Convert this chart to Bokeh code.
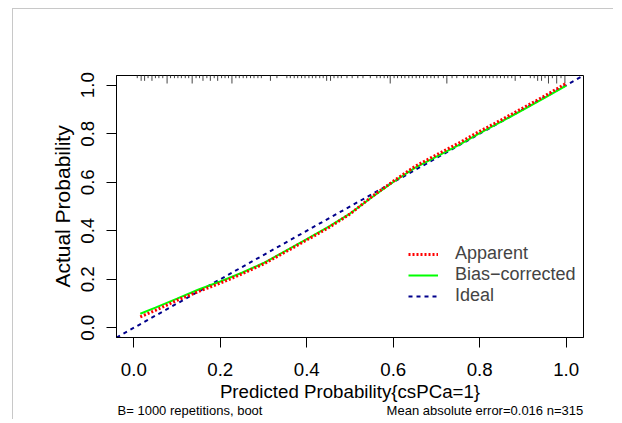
from bokeh.plotting import figure
from bokeh.models import (Range1d, FixedTicker, PrintfTickFormatter, Legend, LegendItem,
                          LinearAxis)
from bokeh.embed import file_html
from bokeh.resources import INLINE

# ---- data ----
pred_x = [0.015, 0.05, 0.10, 0.15, 0.20, 0.25, 0.30, 0.35, 0.40, 0.45, 0.50,
          0.55, 0.60, 0.65, 0.70, 0.75, 0.80, 0.85, 0.90, 0.95, 1.00]
apparent_y = [0.045, 0.072, 0.113, 0.150, 0.184, 0.222, 0.263, 0.312, 0.362, 0.412, 0.469,
              0.540, 0.604, 0.665, 0.713, 0.760, 0.810, 0.857, 0.906, 0.955, 1.008]
bias_y = [0.058, 0.083, 0.120, 0.158, 0.191, 0.227, 0.267, 0.316, 0.366, 0.416, 0.471,
          0.537, 0.601, 0.659, 0.706, 0.752, 0.802, 0.850, 0.898, 0.948, 0.998]
ideal_x = [-0.04, 1.04]
ideal_y = [-0.04, 1.04]

rug_x = [0.008, 0.017, 0.025, 0.033, 0.042, 0.050, 0.058, 0.067, 0.077, 0.085, 0.094, 0.102,
         0.110, 0.119, 0.127, 0.135, 0.144, 0.152, 0.160, 0.169, 0.177, 0.186, 0.194, 0.203,
         0.211, 0.219, 0.227, 0.236, 0.244, 0.253, 0.261, 0.270, 0.278, 0.287, 0.295,
         0.316, 0.331, 0.354, 0.362, 0.371, 0.379, 0.388, 0.396, 0.405, 0.413, 0.421, 0.430,
         0.438, 0.446, 0.455, 0.463, 0.472, 0.480, 0.493, 0.505, 0.518, 0.530, 0.547, 0.562,
         0.570, 0.579, 0.587, 0.593, 0.602, 0.610, 0.619, 0.627, 0.636, 0.644, 0.653, 0.661,
         0.670, 0.678, 0.687, 0.695, 0.704, 0.716, 0.724, 0.736, 0.747, 0.763, 0.772, 0.780,
         0.789, 0.797, 0.806, 0.814, 0.823, 0.831, 0.840, 0.848, 0.857, 0.865, 0.874, 0.882,
         0.894, 0.917, 0.926, 0.934, 0.943, 0.951, 0.959, 0.968, 0.978, 0.988, 0.997]
rug_n = [1, 2, 2, 1, 2, 1, 1, 1, 3, 1, 1, 1,
         1, 1, 1, 3, 1, 1, 2, 1, 2, 1, 2, 1,
         1, 1, 3, 1, 1, 1, 1, 1, 1, 1, 1,
         2, 1, 1, 1, 1, 1, 1, 1, 1, 1, 1, 1,
         1, 2, 2, 1, 1, 1, 1, 1, 1, 1, 1, 1,
         1, 1, 1, 3, 1, 1, 1, 1, 1, 1, 1, 1,
         1, 1, 1, 1, 1, 1, 3, 1, 1, 1, 1, 1,
         1, 1, 1, 1, 1, 1, 1, 1, 1, 1, 1, 2,
         1, 1, 1, 2, 2, 1, 3, 1, 3, 1, 3]

ticks = [0.0, 0.2, 0.4, 0.6, 0.8, 1.0]
x_title = "Predicted Probability{csPCa=1}"
y_title = "Actual Probability"
footer_left = "B= 1000 repetitions, boot"
footer_right = "Mean absolute error=0.016 n=315"

FONT = "Liberation Sans"

xr = Range1d(-0.04, 1.04)
yr = Range1d(-0.04, 1.04)

p = figure(width=601, height=411, x_range=xr, y_range=yr,
           output_backend="svg", toolbar_location=None,
           min_border_left=103, min_border_right=31, min_border_top=66, min_border_bottom=82)
p.styles = {"margin-left": "12px", "margin-top": "8px",
            "border-top": "1px solid #c8c8c8", "border-left": "1px solid #c8c8c8"}

p.grid.visible = False
p.outline_line_color = "black"
p.outline_line_width = 1
p.background_fill_color = "white"
p.border_fill_color = "white"

for ax in (p.xaxis[0], p.yaxis[0]):
    ax.ticker = FixedTicker(ticks=ticks)
    ax.formatter = PrintfTickFormatter(format="%.1f")
    ax.axis_line_color = "black"
    ax.major_tick_line_color = "black"
    ax.major_tick_out = 10
    ax.major_tick_in = 0
    ax.minor_tick_out = 0
    ax.minor_tick_in = 0
    ax.major_label_text_font = FONT
    ax.major_label_text_font_size = "18.7px"
    ax.major_label_text_color = "black"
    ax.axis_label_text_font = FONT
    ax.axis_label_text_font_size = "18.7px"
    ax.axis_label_text_font_style = "normal"
    ax.axis_label_text_color = "black"

p.xaxis.axis_label = x_title
p.yaxis.axis_label = y_title
p.yaxis.axis_label_text_font_size = "21px"
p.xaxis.major_label_standoff = 15
p.xaxis.axis_label_standoff = 2
p.yaxis.major_label_orientation = "vertical"
p.yaxis.major_label_standoff = 12
p.yaxis.axis_label_standoff = 5

# footer line (two texts under the x axis title), drawn as a label-only axis
foot_left_pos = 0.130
foot_right_pos = 0.812
foot = LinearAxis(ticker=FixedTicker(ticks=[foot_left_pos, foot_right_pos]),
                  major_label_overrides={foot_left_pos: footer_left,
                                         foot_right_pos: footer_right},
                  axis_line_color=None, major_tick_line_color=None,
                  major_tick_out=0, major_tick_in=0, minor_tick_out=0, minor_tick_in=0,
                  minor_tick_line_color=None,
                  major_label_standoff=-2, major_label_text_font=FONT,
                  major_label_text_font_size="13px", major_label_text_color="black")
p.add_layout(foot, "below")

# rug of predicted probabilities along the top
top = yr.end
unit = 0.011
p.segment(x0=rug_x, y0=[top] * len(rug_x), x1=rug_x,
          y1=[top - n * unit for n in rug_n], line_color="#444444", line_width=1)

r_ideal = p.line(ideal_x, ideal_y, line_color="#00008B", line_width=2, line_dash="4 4")
r_bias = p.line(pred_x, bias_y, line_color="#00FF00", line_width=2)
r_app = p.line(pred_x, apparent_y, line_color="#FF0000", line_width=3, line_dash="2 2")

legend = Legend(items=[LegendItem(label="Apparent", renderers=[r_app]),
                       LegendItem(label="Bias\u2212corrected", renderers=[r_bias]),
                       LegendItem(label="Ideal", renderers=[r_ideal])],
                location=(292, 31), padding=0, margin=0, spacing=-1,
                glyph_width=30, glyph_height=20, label_height=20, label_standoff=17,
                label_text_font=FONT, label_text_font_size="18px",
                border_line_color=None, background_fill_alpha=0)
p.add_layout(legend, "center")

open("out.html", "w").write(file_html(p, INLINE))
